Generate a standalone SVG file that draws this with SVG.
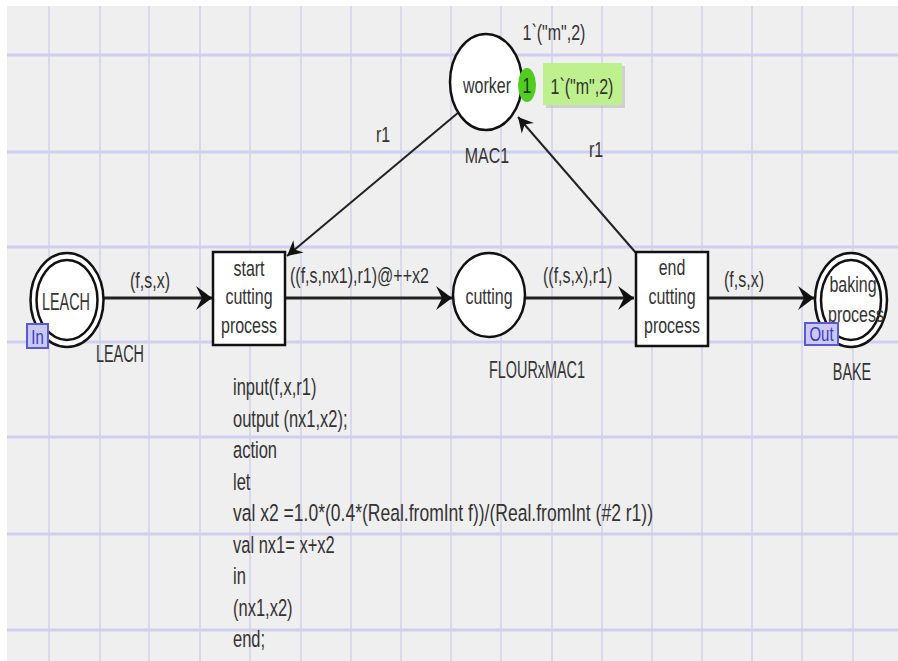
<svg xmlns="http://www.w3.org/2000/svg" width="898" height="661" viewBox="0 0 898 661">
<defs>
<style>
.t{font-family:"Liberation Sans",Arial,sans-serif;font-size:16px;fill:#333}
.m{text-anchor:middle}
.vg{stroke:#d9d9ea;stroke-width:2}
.hg{stroke:#cfcff0;stroke-width:3}
.arc{stroke:#222;fill:none}
.node{fill:#fff;stroke:#111;stroke-width:2.5}
.port{fill:#c9c9f4;stroke:#5a5ad0;stroke-width:2}
.pt{font-family:"Liberation Sans",Arial,sans-serif;font-size:15px;fill:#3a3ac0}
.code{font-size:16.5px}
</style>
<marker id="ah" viewBox="-17 -13 18 26" refX="0" refY="0" markerWidth="18" markerHeight="26" markerUnits="userSpaceOnUse" orient="auto">
<path d="M0,0 L-16,-12 L-10,0 L-16,12 Z" fill="#111"/>
</marker>
<marker id="ad" viewBox="-17 -9 18 18" refX="0" refY="0" markerWidth="18" markerHeight="18" markerUnits="userSpaceOnUse" orient="auto">
<path d="M0,0 L-15,-8 L-10,0 L-15,8 Z" fill="#111"/>
</marker>
</defs>
<rect x="0" y="0" width="898" height="661" fill="#fff"/>
<rect x="7" y="6" width="891" height="655" fill="#efefef"/>
<g id="grid">
<line class="vg" x1="49" y1="6" x2="49" y2="661"/>
<line class="vg" x1="100" y1="6" x2="100" y2="661"/>
<line class="vg" x1="149" y1="6" x2="149" y2="661"/>
<line class="vg" x1="200" y1="6" x2="200" y2="661"/>
<line class="vg" x1="250" y1="6" x2="250" y2="661"/>
<line class="vg" x1="301" y1="6" x2="301" y2="661"/>
<line class="vg" x1="351" y1="6" x2="351" y2="661"/>
<line class="vg" x1="401" y1="6" x2="401" y2="661"/>
<line class="vg" x1="451" y1="6" x2="451" y2="661"/>
<line class="vg" x1="501" y1="6" x2="501" y2="661"/>
<line class="vg" x1="552" y1="6" x2="552" y2="661"/>
<line class="vg" x1="602" y1="6" x2="602" y2="661"/>
<line class="vg" x1="652" y1="6" x2="652" y2="661"/>
<line class="vg" x1="702" y1="6" x2="702" y2="661"/>
<line class="vg" x1="752" y1="6" x2="752" y2="661"/>
<line class="vg" x1="802" y1="6" x2="802" y2="661"/>
<line class="vg" x1="853" y1="6" x2="853" y2="661"/>
<line class="hg" x1="7" y1="55" x2="898" y2="55"/>
<line class="hg" x1="7" y1="152" x2="898" y2="152"/>
<line class="hg" x1="7" y1="247" x2="898" y2="247"/>
<line class="hg" x1="7" y1="342" x2="898" y2="342"/>
<line class="hg" x1="7" y1="437" x2="898" y2="437"/>
<line class="hg" x1="7" y1="534" x2="898" y2="534"/>
<line class="hg" x1="7" y1="630" x2="898" y2="630"/>
</g>
<g id="connectors">
<line class="arc" stroke-width="3" x1="103" y1="298" x2="212" y2="298" marker-end="url(#ah)"/>
<line class="arc" stroke-width="3" x1="286" y1="298" x2="452" y2="298" marker-end="url(#ah)"/>
<line class="arc" stroke-width="3" x1="525" y1="298" x2="634" y2="298" marker-end="url(#ah)"/>
<line class="arc" stroke-width="3" x1="709" y1="298" x2="814" y2="298" marker-end="url(#ah)"/>
<line class="arc" stroke-width="2" x1="459" y1="112" x2="287" y2="256" marker-end="url(#ad)"/>
<line class="arc" stroke-width="2" x1="636" y1="253" x2="518" y2="117" marker-end="url(#ad)"/>
<text class="t m" transform="translate(150,288) scale(1,1.4)">(f,s,x)</text>
<text class="t" transform="translate(290,283) scale(1,1.4)">((f,s,nx1),r1)@++x2</text>
<text class="t" transform="translate(543,283) scale(1,1.4)">((f,s,x),r1)</text>
<text class="t m" transform="translate(744,287) scale(1,1.4)">(f,s,x)</text>
<text class="t m" transform="translate(383,142) scale(1,1.4)">r1</text>
<text class="t m" transform="translate(596,157) scale(1,1.4)">r1</text>
</g>
<g id="worker">
<ellipse class="node" cx="486" cy="82" rx="36" ry="48"/>
<text class="t m" transform="translate(487,93) scale(1,1.4)">worker</text>
<text class="t m" transform="translate(554,40) scale(1,1.4)">1`("m",2)</text>
<text class="t m" transform="translate(487,163) scale(1,1.4)">MAC1</text>
<ellipse cx="527" cy="85" rx="9" ry="17" fill="#52cc22"/>
<text class="t m" transform="translate(527,93) scale(1,1.4)" style="fill:#143a00">1</text>
<rect x="546" y="66" width="79" height="42" fill="#bbb" opacity="0.6"/>
<rect x="543" y="63" width="79" height="42" fill="#bff08e"/>
<text class="t m" transform="translate(582,94) scale(1,1.4)">1`("m",2)</text>
</g>
<g id="leach">
<ellipse class="node" cx="67" cy="300" rx="36.5" ry="47"/>
<ellipse class="node" cx="67" cy="300" rx="30.5" ry="40"/>
<text class="t m" transform="translate(66,310) scale(0.9,1.5)">LEACH</text>
<rect class="port" x="27" y="324" width="21" height="24"/>
<text class="pt m" transform="translate(37.5,344) scale(1,1.3)">In</text>
<text class="t m" transform="translate(120,362) scale(0.9,1.45)">LEACH</text>
</g>
<g id="start">
<rect class="node" x="213" y="252" width="72" height="93" stroke-width="3"/>
<text class="t m" transform="translate(249,276) scale(1,1.4)">start</text>
<text class="t m" transform="translate(249,304) scale(1,1.4)">cutting</text>
<text class="t m" transform="translate(249,333) scale(1,1.4)">process</text>
<g class="t">
<text class="code" transform="translate(233,395) scale(1,1.4)">input(f,x,r1)</text>
<text class="code" transform="translate(233,426.5) scale(1,1.4)">output (nx1,x2);</text>
<text class="code" transform="translate(233,458) scale(1,1.4)">action</text>
<text class="code" transform="translate(233,489.5) scale(1,1.4)">let</text>
<text class="code" transform="translate(233,521) scale(1,1.4)" textLength="420" lengthAdjust="spacingAndGlyphs">val x2 =1.0*(0.4*(Real.fromInt f))/(Real.fromInt (#2 r1))</text>
<text class="code" transform="translate(233,552.5) scale(1,1.4)">val nx1= x+x2</text>
<text class="code" transform="translate(233,584) scale(1,1.4)">in</text>
<text class="code" transform="translate(233,615.5) scale(1,1.4)">(nx1,x2)</text>
<text class="code" transform="translate(233,647) scale(1,1.4)">end;</text>
</g>
</g>
<g id="cutting">
<ellipse class="node" cx="489" cy="295" rx="36" ry="42"/>
<text class="t m" transform="translate(489,304) scale(1,1.4)">cutting</text>
<text class="t m" transform="translate(537,378) scale(0.9,1.45)">FLOURxMAC1</text>
</g>
<g id="end">
<rect class="node" x="636" y="252" width="72" height="94" stroke-width="3"/>
<text class="t m" transform="translate(672,275) scale(1,1.4)">end</text>
<text class="t m" transform="translate(672,304) scale(1,1.4)">cutting</text>
<text class="t m" transform="translate(672,333) scale(1,1.4)">process</text>
</g>
<g id="bake">
<ellipse class="node" cx="851" cy="300" rx="36" ry="47"/>
<ellipse class="node" cx="851" cy="300" rx="30" ry="40"/>
<text class="t m" transform="translate(853,292) scale(1,1.4)">baking</text>
<text class="t m" transform="translate(856,322) scale(1,1.4)">process</text>
<rect class="port" x="805" y="323" width="33" height="22"/>
<text class="pt m" transform="translate(821.5,341) scale(1,1.3)">Out</text>
<text class="t m" transform="translate(852,380) scale(0.9,1.45)">BAKE</text>
</g>
</svg>
